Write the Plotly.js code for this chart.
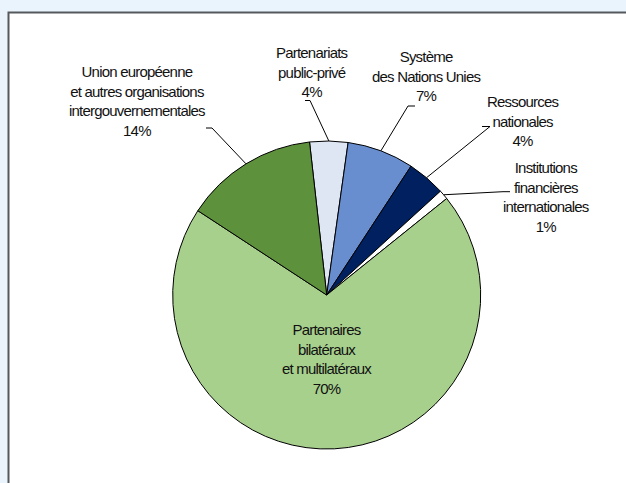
<!DOCTYPE html>
<html>
<head>
<meta charset="utf-8">
<script src="https://cdn.plot.ly/plotly-3.0.1.min.js"></script>
<style>
html,body{margin:0;padding:0;background:#EAF4FD;}
.annotation-text{letter-spacing:-0.8px;}
</style>
</head>
<body>
<div id="chart" style="width:626px;height:483px;"></div>
<script>
// ---- data ----
const categories = [
  "Partenariats<br>public-privé",
  "Système<br>des Nations Unies",
  "Ressources<br>nationales",
  "Institutions<br>financières<br>internationales",
  "Partenaires<br>bilatéraux<br>et multilatéraux",
  "Union européenne<br>et autres organisations<br>intergouvernementales"
];
const values = [4, 7, 4, 1, 70, 14];
const percentLabels = ["4%", "7%", "4%", "1%", "70%", "14%"];

// ---- style / layout ----
const colors = ["#DEE5F3", "#688ECF", "#002060", "#FFFFFF", "#A8D08D", "#5E913C"];
const W = 626, H = 483;
const cx = 326.7, cy = 295, R = 154;
const rotation = -6.4;
// label text centre (px), leader elbow (px), tick end (px); null = inside label, no leader
const labelPos = [
  {tx: 312, ty: 72,  elbow: [310, 100.5], tick: [305, 100.5]},
  {tx: 426, ty: 76,  elbow: [408, 106],   tick: [415, 106]},
  {tx: 522, ty: 121, elbow: [490, 126.5], tick: [482, 126.5]},
  {tx: 546, ty: 197, elbow: [503, 191.7], tick: [510, 191.7]},
  {tx: 327, ty: 359, elbow: null, tick: null},
  {tx: 137, ty: 101, elbow: [212, 128],   tick: [206, 128]}
];
const FONT = "'Liberation Sans', Arial, sans-serif";

const px2x = p => p / W;
const px2y = p => 1 - p / H;

const total = values.reduce((a, b) => a + b, 0);
let cum = 0;
const annotations = [];
const shapes = [{
  type: 'rect', xref: 'paper', yref: 'paper', layer: 'below',
  x0: px2x(8.5), x1: 1.05, y0: -0.05, y1: px2y(12.5),
  fillcolor: '#FFFFFF', line: {color: '#54595D', width: 2}
}];

values.forEach((v, i) => {
  const mid = (rotation + (cum + v / 2) / total * 360) * Math.PI / 180;
  cum += v;
  const ex = cx + R * Math.sin(mid), ey = cy - R * Math.cos(mid);
  const lp = labelPos[i];
  annotations.push({
    xref: 'paper', yref: 'paper', x: px2x(lp.tx), y: px2y(lp.ty),
    xanchor: 'center', yanchor: 'middle', align: 'center', showarrow: false,
    text: categories[i] + "<br>" + percentLabels[i],
    font: {family: FONT, size: 15, color: '#111111'}
  });
  if (lp.elbow) {
    shapes.push({
      type: 'path', xref: 'paper', yref: 'paper', layer: 'above',
      path: `M ${px2x(ex)},${px2y(ey)} L ${px2x(lp.elbow[0])},${px2y(lp.elbow[1])} L ${px2x(lp.tick[0])},${px2y(lp.tick[1])}`,
      line: {color: '#000000', width: 1}
    });
  }
});

const trace = {
  type: 'pie',
  labels: categories,
  values: values,
  sort: false,
  direction: 'clockwise',
  rotation: rotation,
  textinfo: 'none',
  hoverinfo: 'none',
  showlegend: false,
  marker: {colors: colors, line: {color: '#000000', width: 1}},
  domain: {x: [px2x(cx - R), px2x(cx + R)], y: [px2y(cy + R), px2y(cy - R)]}
};

const layout = {
  width: W, height: H,
  margin: {l: 0, r: 0, t: 0, b: 0},
  paper_bgcolor: '#EAF4FD',
  showlegend: false,
  shapes: shapes,
  annotations: annotations
};

Plotly.newPlot('chart', [trace], layout, {displayModeBar: false, staticPlot: true});
</script>
</body>
</html>
